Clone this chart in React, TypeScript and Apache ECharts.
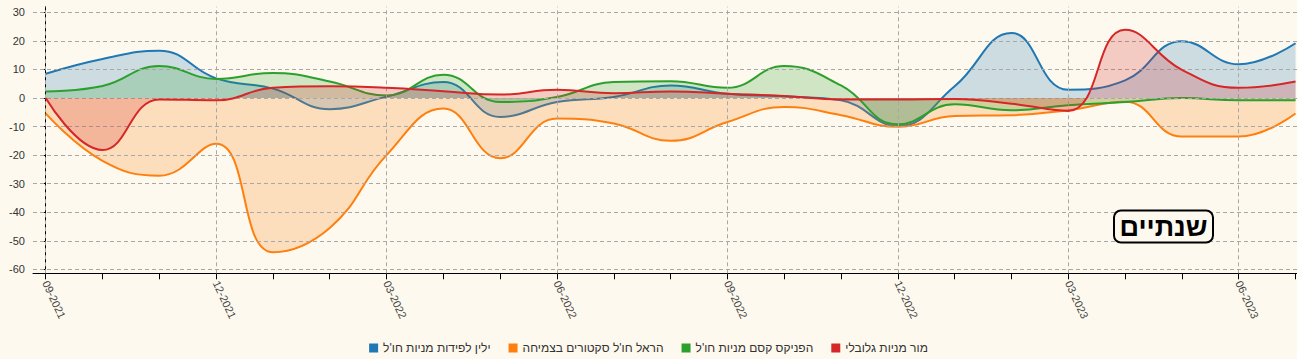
import React, { useEffect, useRef } from "react";
import * as echarts from "echarts";

const months = [
  "09-2021", "10-2021", "11-2021", "12-2021", "01-2022", "02-2022", "03-2022", "04-2022",
  "05-2022", "06-2022", "07-2022", "08-2022", "09-2022", "10-2022", "11-2022", "12-2022",
  "01-2023", "02-2023", "03-2023", "04-2023", "05-2023", "06-2023", "07-2023",
];
const labelIdx = [0, 3, 6, 9, 12, 15, 18, 21];
const yTicks = [-60, -50, -40, -30, -20, -10, 0, 10, 20, 30];

const names = [
  "ילין לפידות מניות חו'ל",
  "הראל חו'ל סקטורים בצמיחה",
  "הפניקס קסם מניות חו'ל",
  "מור מניות גלובלי",
];
const colors = ["#1f77b4", "#ff7f0e", "#2ca02c", "#d62728"];

const yelin = [8.5, 13.7, 16.6, 6.9, 3.3, -3.9, 0.5, 5.6, -6.6, -1.4, 0.4, 4.4, 1.5, 0.6, -0.8, -9.8, 4.1, 22.8, 2.9, 6.2, 19.9, 11.8, 19.2];
const harel = [-5.4, -22, -27.2, -16, -54, -45.5, -20, -3.7, -21.1, -7.2, -8.9, -15, -8.4, -3.1, -6, -10.1, -6.3, -6, -4.3, -1.3, -13.5, -13.5, -5.4];
const phoenix = [2.3, 4.2, 11.2, 6.7, 8.8, 5.8, 0.9, 8.2, -1.4, 0.4, 5.6, 5.9, 3.6, 11.2, 4.4, -9.2, -2.2, -4.3, -2.5, -1.4, 0, -0.8, -0.8];
const mor = [0, -18.2, -0.5, -0.8, 3.6, 4.1, 3.6, 2.4, 1.2, 2.9, 1.7, 2.3, 1.5, 0.7, -0.5, -0.5, -0.3, -2, -4.5, 23.9, 9.9, 3.6, 5.8];
const seriesValues = [yelin, harel, phoenix, mor];

const BG = "#fdf9ee";
const FONT = "Arial, 'Liberation Sans', sans-serif";

export default function App() {
  const ref = useRef<HTMLDivElement>(null);
  useEffect(() => {
    if (!ref.current) return;
    const chart = echarts.init(ref.current, null, { renderer: "svg" });
    const gridStyle = { type: [4, 3], color: "#a8a8a8", width: 1 };
    const option: any = {
      animation: false,
      backgroundColor: BG,
      textStyle: { fontFamily: FONT },
      grid: { left: 33, right: 0, top: 6.7, bottom: 85.7, containLabel: false },
      xAxis: {
        type: "value",
        min: -0.2235,
        max: 22.026,
        axisLine: { show: true, onZero: false, lineStyle: { color: "#000", width: 1 } },
        axisTick: { show: true, length: 6, customValues: months.map((_, i) => i), lineStyle: { color: "#000" } },
        axisLabel: {
          customValues: labelIdx,
          formatter: (v: number) => months[Math.round(v)] ?? "",
          rotate: -65,
          margin: 8,
          fontSize: 11,
          color: "#444",
          fontFamily: FONT,
        },
        splitLine: { show: false },
      },
      yAxis: {
        type: "value",
        min: -61.4,
        max: 32,
        axisLine: { show: true, lineStyle: { color: "#000", width: 1 } },
        axisTick: { show: true, length: 4, customValues: yTicks, lineStyle: { color: "#000" } },
        axisLabel: { customValues: yTicks, margin: 8, fontSize: 11, color: "#333", fontFamily: FONT },
        splitLine: { show: false },
      },
      legend: {
        data: names,
        left: "center",
        top: 337,
        itemWidth: 9,
        itemHeight: 9,
        itemGap: 18,
        icon: "rect",
        textStyle: { fontSize: 12, color: "#333", fontFamily: FONT },
      },
      graphic: [
        {
          type: "rect",
          shape: { x: 1114, y: 210.5, width: 99, height: 32, r: 7 },
          style: { fill: BG, stroke: "#000", lineWidth: 2 },
          z: 100,
        },
        {
          type: "text",
          x: 1163.5,
          y: 227,
          style: {
            text: "שנתיים",
            font: `bold 27px ${FONT}`,
            fill: "#000",
            textAlign: "center",
            textVerticalAlign: "middle",
          },
          z: 101,
        },
      ],
      series: [
        {
          name: "grid",
          type: "line",
          data: [],
          z: 0,
          silent: true,
          markLine: {
            silent: true,
            symbol: "none",
            label: { show: false },
            lineStyle: gridStyle,
            emphasis: { disabled: true },
            data: [
              ...labelIdx.map((i) => ({ xAxis: i })),
              ...yTicks.map((v) => ({ yAxis: v })),
            ],
          },
        },
        ...seriesValues.map((vals, k) => ({
          name: names[k],
          type: "line",
          data: vals.map((v, i) => [i, v]),
          smooth: 0.45,
          showSymbol: false,
          symbol: "none",
          z: 2 + k,
          color: colors[k],
          lineStyle: { color: colors[k], width: 2 },
          areaStyle: { color: colors[k], opacity: 0.22, origin: 0 },
          emphasis: { disabled: true },
        })),
      ],
    };
    chart.setOption(option);
    return () => chart.dispose();
  }, []);
  return (
    <div
      ref={ref}
      style={{ position: "absolute", left: 0, top: 0, width: 1297, height: 359 }}
    />
  );
}
